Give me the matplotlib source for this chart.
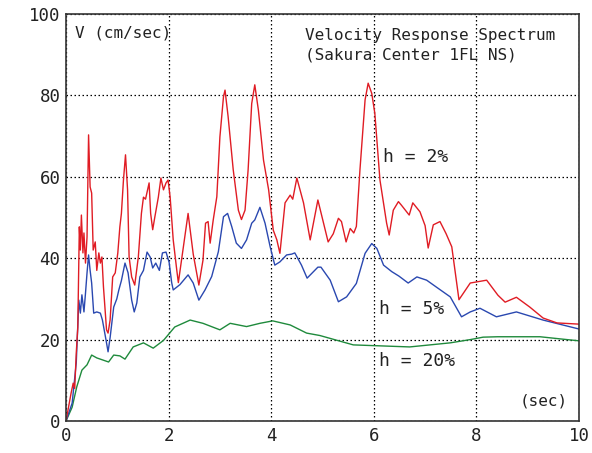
import matplotlib
matplotlib.use("Agg")
import matplotlib.pyplot as plt

# ---- data (period in sec, velocity in cm/sec) ----
red_x = [0.0, 0.1, 0.14, 0.17, 0.2, 0.23, 0.26, 0.28, 0.3, 0.33, 0.35, 0.38, 0.41, 0.44, 0.47, 0.5,
         0.53, 0.57, 0.6, 0.64, 0.67, 0.7, 0.73, 0.79, 0.82, 0.86, 0.91, 0.96, 1.01, 1.05, 1.08, 1.12,
         1.16, 1.2, 1.23, 1.28, 1.34, 1.41, 1.47, 1.51, 1.55, 1.62, 1.65, 1.69, 1.73, 1.8, 1.85, 1.9,
         1.95, 1.99, 2.03, 2.09, 2.16, 2.19, 2.38, 2.48, 2.59, 2.67, 2.72, 2.77, 2.81, 2.87, 2.94, 3.0,
         3.07, 3.1, 3.16, 3.26, 3.36, 3.42, 3.49, 3.55, 3.62, 3.68, 3.75, 3.85, 3.95, 4.04, 4.11, 4.17,
         4.27, 4.37, 4.42, 4.5, 4.63, 4.76, 4.91, 5.11, 5.21, 5.31, 5.37, 5.46, 5.54, 5.61, 5.66, 5.73,
         5.83, 5.89, 5.96, 6.02, 6.12, 6.25, 6.3, 6.38, 6.48, 6.54, 6.69, 6.76, 6.9, 7.0, 7.06, 7.16,
         7.29, 7.41, 7.52, 7.66, 7.88, 8.2, 8.42, 8.56, 8.78, 9.04, 9.3, 9.57, 10.0]
red_y = [0.0, 6.9, 9.3, 8.0, 16.7, 23.0, 47.7, 42.0, 50.6, 41.3, 46.2, 38.8, 45.2, 70.3, 57.5, 56.0,
         42.0, 44.0, 37.0, 41.3, 38.8, 40.3, 33.0, 22.4, 21.6, 24.8, 35.4, 36.4, 41.3, 47.7, 51.0, 59.2,
         65.4, 56.8, 40.3, 35.4, 33.4, 40.3, 51.0, 55.0, 54.5, 58.5, 51.0, 47.0, 50.0, 55.0, 59.7, 56.8,
         58.5, 59.2, 55.0, 44.5, 37.0, 34.0, 51.0, 41.0, 33.4, 39.5, 48.6, 49.0, 43.7, 49.4, 55.1, 69.8,
         79.7, 81.3, 74.8, 61.7, 51.8, 49.5, 51.8, 61.7, 78.0, 82.6, 76.4, 64.1, 56.8, 46.9, 44.5, 41.2,
         53.6, 55.5, 54.5, 59.7, 53.6, 44.5, 54.3, 44.0, 46.0, 49.8, 49.0, 44.0, 47.3, 46.2, 47.8, 61.7,
         78.9, 83.0, 80.5, 75.6, 59.2, 48.6, 45.7, 51.8, 53.9, 53.0, 50.6, 53.6, 51.4, 48.0, 42.5, 48.2,
         49.0, 46.0, 42.8, 29.8, 33.9, 34.6, 30.9, 29.2, 30.4, 28.0, 25.3, 24.1, 23.8]

blue_x = [0.0, 0.12, 0.2, 0.25, 0.28, 0.31, 0.35, 0.38, 0.41, 0.44, 0.47, 0.5, 0.54, 0.6, 0.67, 0.71,
          0.78, 0.82, 0.86, 0.93, 0.99, 1.03, 1.08, 1.15, 1.21, 1.28, 1.33, 1.38, 1.44, 1.51, 1.58, 1.64,
          1.69, 1.75, 1.82, 1.88, 1.95, 2.01, 2.06, 2.09, 2.22, 2.38, 2.48, 2.59, 2.71, 2.84, 2.97, 3.07,
          3.15, 3.23, 3.32, 3.42, 3.52, 3.62, 3.68, 3.78, 3.88, 3.98, 4.07, 4.17, 4.3, 4.4, 4.46, 4.59,
          4.7, 4.91, 4.97, 5.15, 5.31, 5.47, 5.66, 5.83, 5.96, 6.06, 6.19, 6.35, 6.49, 6.67, 6.84, 7.03,
          7.22, 7.49, 7.71, 7.88, 8.07, 8.39, 8.78, 9.3, 10.0]
blue_y = [0.0, 4.4, 14.3, 29.7, 26.5, 31.0, 26.8, 31.4, 36.4, 40.8, 37.0, 33.9, 26.5, 26.8, 26.5, 24.8,
          19.9, 17.0, 20.5, 28.0, 30.0, 32.2, 34.5, 38.8, 36.4, 29.7, 26.8, 29.0, 35.4, 37.0, 41.5, 40.3,
          37.6, 38.8, 37.0, 41.3, 41.5, 39.0, 34.0, 32.2, 33.5, 35.9, 33.9, 29.7, 32.2, 35.5, 41.6, 50.2,
          51.0, 47.8, 43.7, 42.4, 44.5, 48.6, 49.4, 52.5, 48.6, 42.8, 38.3, 39.1, 40.8, 41.0, 41.3, 38.3,
          35.1, 37.8, 37.8, 34.6, 29.3, 30.5, 33.8, 41.2, 43.6, 42.4, 38.3, 36.7, 35.6, 33.9, 35.4, 34.6,
          32.9, 30.5, 25.6, 26.8, 27.7, 25.6, 26.8, 24.8, 22.6]

green_x = [0.0, 0.12, 0.21, 0.31, 0.41, 0.5, 0.6, 0.83, 0.93, 1.05, 1.15, 1.31, 1.51, 1.7, 1.9, 2.12,
           2.42, 2.67, 3.0, 3.2, 3.52, 3.78, 4.03, 4.37, 4.69, 4.95, 5.6, 6.7, 7.49, 7.88, 8.13, 8.42,
           9.24, 9.69, 10.0]
green_y = [0.0, 3.4, 8.4, 12.5, 13.8, 16.2, 15.5, 14.5, 16.2, 16.0, 15.2, 18.2, 19.2, 17.9, 19.8, 23.1,
           24.8, 24.0, 22.4, 24.0, 23.2, 24.0, 24.6, 23.6, 21.6, 21.0, 18.7, 18.2, 19.2, 20.0, 20.6, 20.7,
           20.7, 20.1, 19.7]

x_ticks = [0, 2, 4, 6, 8, 10]
y_ticks = [0, 20, 40, 60, 80, 100]

FONT = "DejaVu Sans Mono"

fig = plt.figure(figsize=(5.92, 4.53), dpi=100)
ax = fig.add_axes([66 / 592, 1 - 421 / 453, (579 - 66) / 592, (421 - 14) / 453])

ax.plot(green_x, green_y, color="#1f8a3c", lw=1.0)
ax.plot(blue_x, blue_y, color="#2a48b0", lw=1.0)
ax.plot(red_x, red_y, color="#e01c24", lw=1.0)

ax.set_xlim(0, 10)
ax.set_ylim(0, 100)
ax.set_xticks(x_ticks)
ax.set_yticks(y_ticks)
ax.set_xticklabels([str(t) for t in x_ticks], fontfamily=FONT, fontsize=12.5)
ax.set_yticklabels([str(t) for t in y_ticks], fontfamily=FONT, fontsize=12.5)
ax.tick_params(length=0, pad=4, colors="#222222")
ax.grid(True, color="black", linestyle=(0, (1.2, 2.0)), lw=0.9)
for s in ax.spines.values():
    s.set_color("#333333")
    s.set_linewidth(1.2)

ax.text(0.18, 95.3, "V (cm/sec)", fontfamily=FONT, fontsize=11.5, va="center", ha="left", color="#222222")
ax.text(4.66, 94.8, "Velocity Response Spectrum", fontfamily=FONT, fontsize=11.5, va="center", ha="left", color="#222222")
ax.text(4.66, 89.9, "(Sakura Center 1FL NS)", fontfamily=FONT, fontsize=11.5, va="center", ha="left", color="#222222")
ax.text(6.18, 64.9, "h = 2%", fontfamily=FONT, fontsize=13, va="center", ha="left", color="#222222")
ax.text(6.1, 27.5, "h = 5%", fontfamily=FONT, fontsize=13, va="center", ha="left", color="#222222")
ax.text(6.1, 14.7, "h = 20%", fontfamily=FONT, fontsize=13, va="center", ha="left", color="#222222")
ax.text(8.85, 4.9, "(sec)", fontfamily=FONT, fontsize=11.5, va="center", ha="left", color="#222222")

fig.savefig("out.png", dpi=100)
